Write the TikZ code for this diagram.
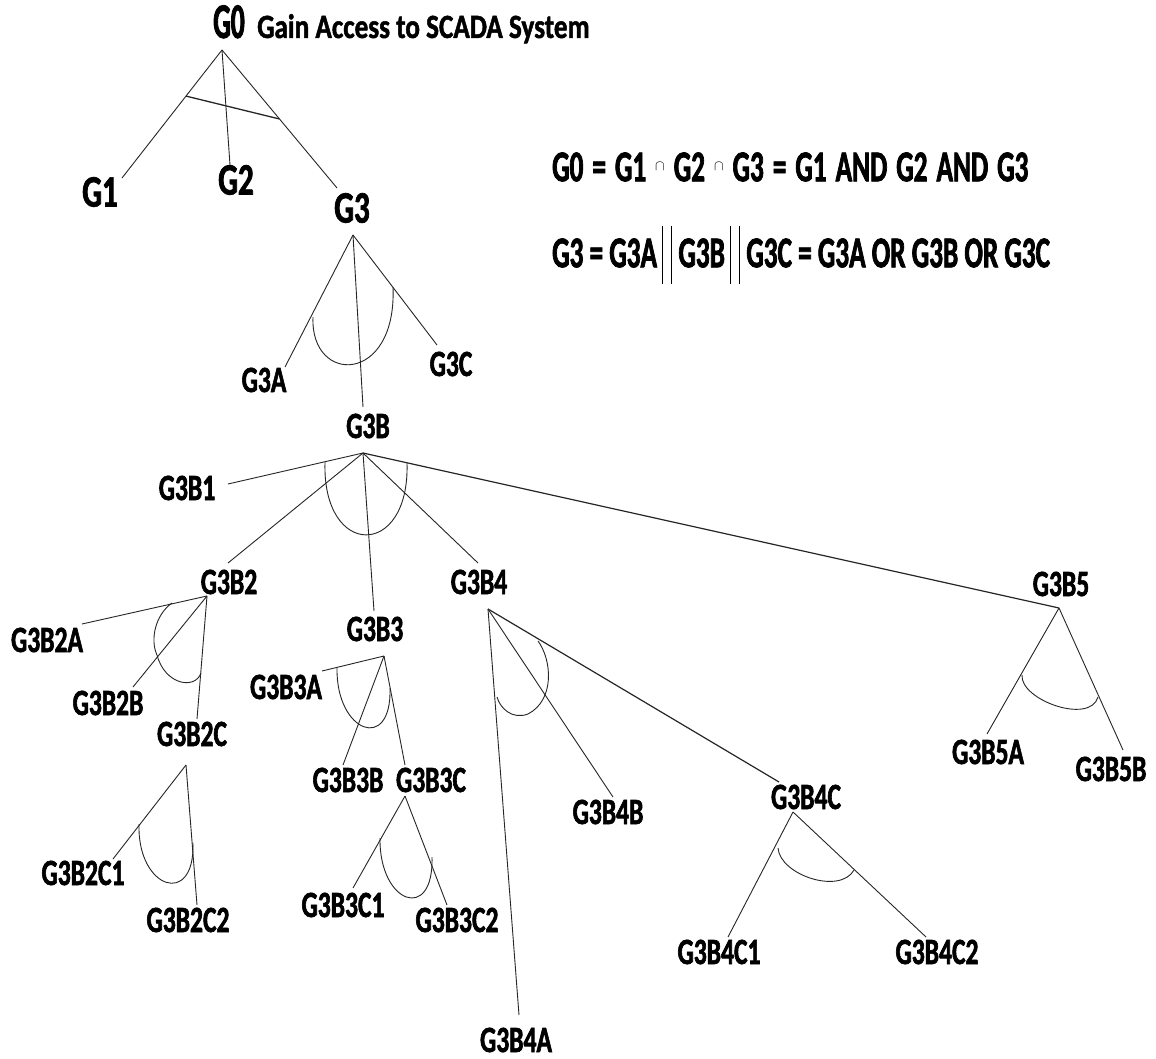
\documentclass[tikz,border=0pt]{standalone}
\usepackage{fontspec}
\newfontfamily\lblf[FakeStretch=0.69,FakeBold=1.6]{Carlito}
\newfontfamily\eqf[FakeStretch=0.62,FakeBold=1.6]{Carlito}
\newfontfamily\gzf[FakeStretch=0.55,FakeBold=1.6]{Carlito}
\newfontfamily\ttlf[FakeStretch=0.8,FakeBold=1.4]{Carlito}
\usetikzlibrary{calc}
\newcommand\capsym{\raisebox{0.5ex}{\fontsize{14}{14}\selectfont$\cap$}}
\begin{document}
\begin{tikzpicture}[x=1pt,y=-1pt,
  lbl/.style={font=\lblf\bfseries\fontsize{37}{40}\selectfont,inner sep=0pt},
  biglbl/.style={font=\lblf\bfseries\fontsize{45}{48}\selectfont,inner sep=0pt},
  eqtxt/.style={font=\eqf\bfseries\fontsize{44}{46}\selectfont,inner sep=0pt},
  edge/.style={line width=0.9pt,draw=black!85},
  gate/.style={line width=0.9pt,draw=black!85},
  bar/.style={line width=0.9pt,draw=black}
]
\useasboundingbox[fill=white] (0,0) rectangle (1156,1059);

% ---- title
\node[font=\gzf\bfseries\fontsize{50}{52}\selectfont,inner sep=0pt,anchor=base] (g0) at (229,38) {G0};
\node[font=\ttlf\bfseries\fontsize{34}{36}\selectfont,inner sep=0pt,anchor=base west] (g0t) at (257,38) {Gain Access to SCADA System};

% ---- level 1
\node[biglbl] (g1) at (100,192) {G1};
\node[biglbl] (g2) at (236,180) {G2};
\node[biglbl] (g3) at (352,208) {G3};
\coordinate (a0) at (222,50);
\coordinate (e1) at (122,178);
\coordinate (e2) at (230,165);
\coordinate (e3) at (337,188);
\draw[edge] (a0) -- (e1);
\draw[edge] (a0) -- (e2);
\draw[edge] (a0) -- (e3);
\draw[line width=1.3pt,draw=black!85] ($(a0)!0.36!(e1)$) -- ($(a0)!0.5!(e3)$);

% ---- equations
\node[eqtxt,anchor=west] (eq1) at (552,167) {\spaceskip=9pt G0 = G1 \capsym{} G2 \capsym{} G3 = G1 AND G2 AND G3};
\node[eqtxt,anchor=west] (eq2a) at (552,253) {G3 = G3A};
\node[eqtxt,anchor=west] (eq2b) at ($(eq2a.east)+(21,0)$) {G3B};
\node[eqtxt,anchor=west] (eq2c) at ($(eq2b.east)+(21,0)$) {G3C = G3A OR G3B OR G3C};
\coordinate (b1t) at ($(eq2a.north east)+(5,-12)$);
\coordinate (b1b) at ($(eq2a.south east)+(5,16)$);
\coordinate (b2t) at ($(eq2a.north east)+(14,-12)$);
\coordinate (b2b) at ($(eq2a.south east)+(14,16)$);
\coordinate (b3t) at ($(eq2b.north east)+(5,-12)$);
\coordinate (b3b) at ($(eq2b.south east)+(5,16)$);
\coordinate (b4t) at ($(eq2b.north east)+(14,-12)$);
\coordinate (b4b) at ($(eq2b.south east)+(14,16)$);
\draw[bar] (b1t) -- (b1b);
\draw[bar] (b2t) -- (b2b);
\draw[bar] (b3t) -- (b3b);
\draw[bar] (b4t) -- (b4b);

% ---- G3 subtree
\node[lbl] (g3a) at (264,380) {G3A};
\node[lbl] (g3b) at (368,426) {G3B};
\node[lbl] (g3c) at (451,364) {G3C};
\coordinate (a3) at (353,235);
\coordinate (e3a) at (285,367);
\coordinate (e3b) at (363,407);
\coordinate (e3c) at (437,345);
\draw[edge] (a3) -- (e3a);
\draw[edge] (a3) -- (e3b);
\draw[edge] (a3) -- (e3c);
\draw[gate] (313,317) .. controls (310,385) and (397,385) .. (393,287);

% ---- G3B subtree
\node[lbl] (g3b1) at (187,488) {G3B1};
\node[lbl] (g3b2) at (229,582) {G3B2};
\node[lbl] (g3b3) at (375,629) {G3B3};
\node[lbl] (g3b4) at (479,582) {G3B4};
\node[lbl] (g3b5) at (1061,584) {G3B5};
\coordinate (a3b) at (363,453);
\coordinate (e3b1) at (228,484);
\coordinate (e3b2) at (228,563);
\coordinate (e3b3) at (374,611);
\coordinate (e3b4) at (478,563);
\coordinate (e3b5) at (1059,608);
\draw[edge] (a3b) -- (e3b1);
\draw[edge] (a3b) -- (e3b2);
\draw[edge] (a3b) -- (e3b3);
\draw[edge] (a3b) -- (e3b4);
\draw[edge,line width=1.2pt] (a3b) -- (e3b5);
\draw[gate] (325,462) .. controls (322,559) and (410,559) .. (407,463);

% ---- G3B2 subtree
\node[lbl] (g3b2a) at (47,640) {G3B2A};
\node[lbl] (g3b2b) at (108,703) {G3B2B};
\node[lbl] (g3b2c) at (192,734) {G3B2C};
\coordinate (a3b2) at (207,596);
\coordinate (e3b2a) at (82,624);
\coordinate (e3b2b) at (133,687);
\coordinate (e3b2c) at (197,719);
\draw[edge] (a3b2) -- (e3b2a);
\draw[edge] (a3b2) -- (e3b2b);
\draw[edge] (a3b2) -- (e3b2c);
\draw[gate] (172,603) .. controls (155,615) and (150,640) .. (157,655)
  .. controls (165,685) and (195,690) .. (201,673);

% ---- G3B2C subtree
\node[lbl] (g3b2c1) at (83,873) {G3B2C1};
\node[lbl] (g3b2c2) at (188,920) {G3B2C2};
\coordinate (a3b2c) at (186,765);
\coordinate (e3b2c1) at (113,859);
\coordinate (e3b2c2) at (197,905);
\draw[edge] (a3b2c) -- (e3b2c1);
\draw[edge] (a3b2c) -- (e3b2c2);
\draw[gate] (139,824) .. controls (137,889) and (195,908) .. (193,843);

% ---- G3B3 subtree
\node[lbl] (g3b3a) at (286,687) {G3B3A};
\node[lbl] (g3b3b) at (348,780) {G3B3B};
\node[lbl] (g3b3c) at (431,780) {G3B3C};
\coordinate (a3b3) at (384,656);
\coordinate (e3b3a) at (322,671);
\coordinate (e3b3b) at (343,765);
\coordinate (e3b3c) at (405,765);
\draw[edge] (a3b3) -- (e3b3a);
\draw[edge] (a3b3) -- (e3b3b);
\draw[edge] (a3b3) -- (e3b3c);
\draw[gate] (337,668) .. controls (336,733) and (392,753) .. (390,688);

% ---- G3B3C subtree
\node[lbl] (g3b3c1) at (343,905) {G3B3C1};
\node[lbl] (g3b3c2) at (457,920) {G3B3C2};
\coordinate (a3b3c) at (405,796);
\coordinate (e3b3c1) at (353,888);
\coordinate (e3b3c2) at (447,905);
\draw[edge] (a3b3c) -- (e3b3c1);
\draw[edge] (a3b3c) -- (e3b3c2);
\draw[gate] (380,838) .. controls (379,904) and (434,923) .. (432,857);

% ---- G3B4 subtree
\node[lbl] (g3b4a) at (516,1040) {G3B4A};
\node[lbl] (g3b4b) at (608,812) {G3B4B};
\node[lbl] (g3b4c) at (806,797) {G3B4C};
\coordinate (a3b4) at (488,609);
\coordinate (e3b4a) at (519,1015);
\coordinate (e3b4b) at (613,797);
\coordinate (e3b4c) at (779,782);
\draw[edge] (a3b4) -- (e3b4a);
\draw[edge] (a3b4) -- (e3b4b);
\draw[edge,line width=1.2pt] (a3b4) -- (e3b4c);
\draw[gate] (538,641) .. controls (552,660) and (555,700) .. (528,714)
  .. controls (512,720) and (500,708) .. (497,697);

% ---- G3B4C subtree
\node[lbl] (g3b4c1) at (719,952) {G3B4C1};
\node[lbl] (g3b4c2) at (937,952) {G3B4C2};
\coordinate (a3b4c) at (793,812);
\coordinate (e3b4c1) at (728,937);
\coordinate (e3b4c2) at (926,937);
\draw[edge] (a3b4c) -- (e3b4c1);
\draw[edge] (a3b4c) -- (e3b4c2);
\draw[gate] (778,848) .. controls (780,875) and (840,895) .. (854,870);

% ---- G3B5 subtree
\node[lbl] (g3b5a) at (988,752) {G3B5A};
\node[lbl] (g3b5b) at (1111,769) {G3B5B};
\coordinate (a3b5) at (1059,608);
\coordinate (e3b5a) at (987,734);
\coordinate (e3b5b) at (1123,750);
\draw[edge] (a3b5) -- (e3b5a);
\draw[edge] (a3b5) -- (e3b5b);
\draw[gate] (1022,675) .. controls (1020,700) and (1090,725) .. (1098,697);
\end{tikzpicture}
\end{document}
